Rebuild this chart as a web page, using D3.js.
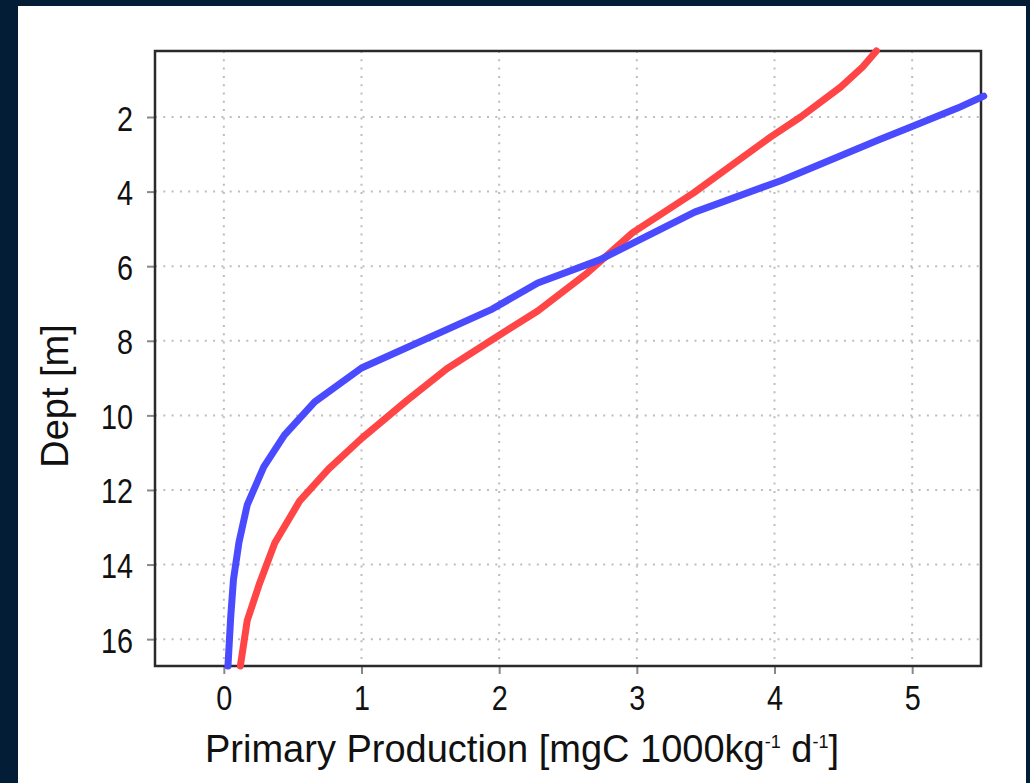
<!DOCTYPE html>
<html>
<head>
<meta charset="utf-8">
<script src="https://cdn.jsdelivr.net/npm/d3@7"></script>
<style>
  html, body { margin: 0; padding: 0; background: #021d35; }
  svg { display: block; }
</style>
</head>
<body>
<svg id="chart" width="1030" height="783"></svg>
<script>
// ---- data ----
const blueDepth = [1.44, 1.76, 2.27, 2.62, 3.7, 4.55, 5.83, 6.45, 7.15, 8.73, 9.64, 10.53, 11.38, 12.4, 13.4, 14.4, 15.4, 16.72];
const blueProd  = [5.52, 5.33, 4.99, 4.75, 4.05, 3.42, 2.73, 2.28, 1.95, 1.00, 0.66, 0.44, 0.29, 0.17, 0.11, 0.07, 0.05, 0.03];
const redDepth  = [0.23, 0.66, 1.2, 2.0, 2.54, 4.04, 5.1, 6.18, 7.2, 7.9, 8.75, 9.6, 10.62, 11.44, 12.3, 13.42, 14.5, 15.5, 16.72];
const redProd   = [4.74, 4.64, 4.48, 4.19, 3.97, 3.41, 2.97, 2.64, 2.28, 1.98, 1.62, 1.33, 1.00, 0.76, 0.55, 0.37, 0.26, 0.17, 0.12];
const xTicks = [0, 1, 2, 3, 4, 5];
const yTicks = [2, 4, 6, 8, 10, 12, 14, 16];
const xLabel = "Primary Production [mgC 1000kg";
const yLabel = "Dept [m]";

// ---- layout ----
const svg = d3.select("#chart");
const W = 1030, H = 783;
const L = 155, R = 981, T = 51, B = 666;

svg.append("rect").attr("x", 0).attr("y", 0).attr("width", W).attr("height", H).attr("fill", "#021d35");
svg.append("rect").attr("x", 18).attr("y", 6).attr("width", 1008).attr("height", H - 6).attr("fill", "#ffffff");

const x = d3.scaleLinear().domain([-0.5, 5.5]).range([L, R]);
const y = d3.scaleLinear().domain([0.23, 16.72]).range([T, B]);

// grid
const grid = svg.append("g");
grid.selectAll("line.gx").data(xTicks).join("line")
  .attr("x1", d => x(d)).attr("x2", d => x(d)).attr("y1", T).attr("y2", B)
  .attr("stroke", "#bdbdbd").attr("stroke-width", 2).attr("stroke-dasharray", "2,6.3");
grid.selectAll("line.gy").data(yTicks).join("line")
  .attr("y1", d => y(d)).attr("y2", d => y(d)).attr("x1", L).attr("x2", R)
  .attr("stroke", "#bdbdbd").attr("stroke-width", 2).attr("stroke-dasharray", "2,6.3");

// axes (tick marks from d3 axes; labels drawn condensed)
const tickFont = "'Liberation Sans', Arial, sans-serif";
const xAxis = svg.append("g").attr("transform", `translate(0,${B})`)
  .call(d3.axisBottom(x).tickValues(xTicks).tickSize(8).tickFormat(""));
const yAxis = svg.append("g").attr("transform", `translate(${L},0)`)
  .call(d3.axisLeft(y).tickValues(yTicks).tickSize(8).tickFormat(""));
[xAxis, yAxis].forEach(a => {
  a.select(".domain").remove();
  a.selectAll(".tick line").attr("stroke", "#888").attr("stroke-width", 2);
  a.selectAll(".tick text").remove();
});
const fmt = d3.format("d");
xAxis.selectAll(".tick").each(function(d) {
  d3.select(this).append("g").attr("transform", "translate(0,44) scale(0.8,1)")
    .append("text").attr("text-anchor", "middle").attr("fill", "#111")
    .style("font-family", tickFont).style("font-size", "36px").text(fmt(d));
});
yAxis.selectAll(".tick").each(function(d) {
  d3.select(this).append("g").attr("transform", "translate(-22,13) scale(0.8,1)")
    .append("text").attr("text-anchor", "end").attr("fill", "#111")
    .style("font-family", tickFont).style("font-size", "36px").text(fmt(d));
});

// frame
svg.append("rect").attr("x", L).attr("y", T).attr("width", R - L).attr("height", B - T)
  .attr("fill", "none").attr("stroke", "#2a2a2a").attr("stroke-width", 2.5);

// lines
const line = d3.line().x(d => x(d[0])).y(d => y(d[1]));
const redData = redProd.map((v, i) => [v, redDepth[i]]);
const blueData = blueProd.map((v, i) => [v, blueDepth[i]]);
svg.append("path").datum(redData).attr("d", line)
  .attr("fill", "none").attr("stroke", "#ff4545").attr("stroke-width", 7)
  .attr("stroke-linecap", "round").attr("stroke-linejoin", "round");
svg.append("path").datum(blueData).attr("d", line)
  .attr("fill", "none").attr("stroke", "#4a4aff").attr("stroke-width", 7)
  .attr("stroke-linecap", "round").attr("stroke-linejoin", "round");

// axis titles
const titleFont = "'Liberation Sans', Arial, sans-serif";
const xt = svg.append("text").attr("x", 522).attr("y", 762).attr("text-anchor", "middle")
  .style("font-family", titleFont).style("font-size", "38px").attr("fill", "#111");
xt.append("tspan").text(xLabel);
xt.append("tspan").text("-1").attr("dy", -14).style("font-size", "18px");
xt.append("tspan").text(" d").attr("dy", 14);
xt.append("tspan").text("-1").attr("dy", -14).style("font-size", "18px");
xt.append("tspan").text("]").attr("dy", 14);

svg.append("text").attr("transform", "translate(68,396) rotate(-90)").attr("text-anchor", "middle")
  .style("font-family", titleFont).style("font-size", "38px").attr("fill", "#111").text(yLabel);
</script>
</body>
</html>
